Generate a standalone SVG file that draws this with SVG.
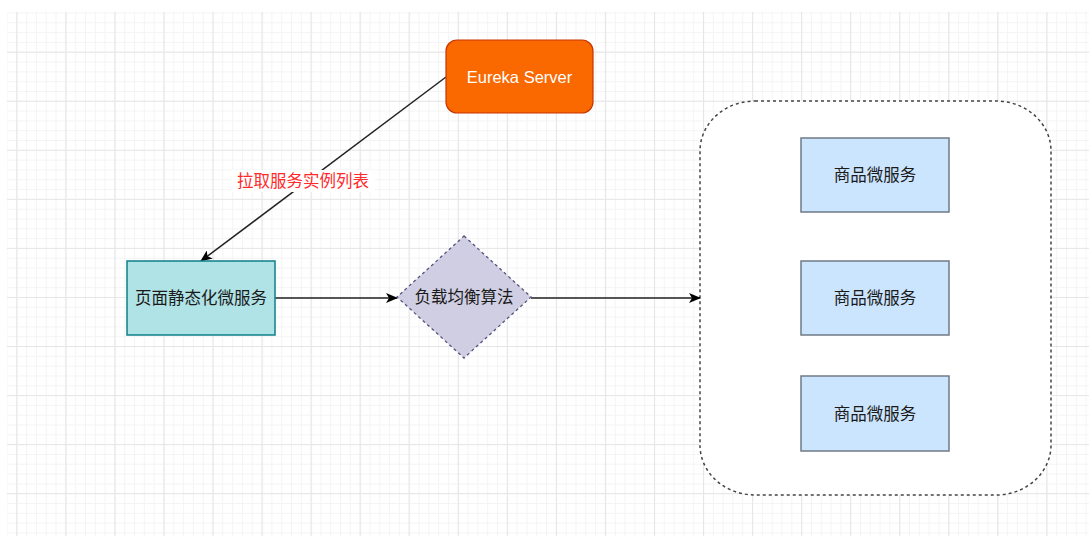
<svg xmlns="http://www.w3.org/2000/svg" width="1089" height="536" viewBox="0 0 1089 536">
<defs>
<pattern id="minor" patternUnits="userSpaceOnUse" x="6.5" y="12.5" width="9.81" height="9.81">
<path d="M0 0.5H9.81M0.5 0V9.81" stroke="#f4f4f4" stroke-width="1" fill="none"/>
</pattern>
<pattern id="major" patternUnits="userSpaceOnUse" x="16.3" y="51.7" width="49.05" height="49.05">
<path d="M0 0.5H49.05M0.5 0V49.05" stroke="#e6e6e6" stroke-width="1.2" fill="none"/>
</pattern>
<marker id="arr" markerWidth="12" markerHeight="10" refX="11" refY="5" orient="auto" markerUnits="userSpaceOnUse">
<path d="M0 0L12 5L0 10L3 5Z" fill="#000"/>
</marker>
<style>
.t{font-family:"Liberation Sans","Noto Sans CJK SC",sans-serif;font-size:16.5px;text-anchor:middle;dominant-baseline:central;fill:#1a1a1a}
.c{stroke:#222;stroke-width:1.5;fill:none}
.svc{fill:#cce5ff;stroke:#6f7985;stroke-width:1.5}
</style>
</defs>
<rect width="1089" height="536" fill="#fff"/>
<rect x="7" y="12" width="1082" height="524" fill="url(#minor)"/>
<rect x="7" y="12" width="1082" height="524" fill="url(#major)"/>

<g id="container">
<rect x="700" y="101" width="351" height="394" rx="55" ry="50" fill="#fff" stroke="#444" stroke-width="1.5" stroke-dasharray="3 3"/>
</g>

<g id="connectors">
<line class="c" x1="446" y1="77" x2="201" y2="261" marker-end="url(#arr)"/>
<rect x="231" y="170" width="144" height="22" fill="#fff"/>
<text class="t" x="303" y="181" style="fill:#ff2a2a">拉取服务实例列表</text>
<line class="c" x1="275" y1="298" x2="397" y2="298" marker-end="url(#arr)"/>
<line class="c" x1="531" y1="298" x2="700" y2="298" marker-end="url(#arr)"/>
</g>

<g id="eureka">
<rect x="446" y="40" width="147" height="73" rx="11" fill="#fa6800" stroke="#c73500" stroke-width="1.2"/>
<text class="t" x="519.5" y="77" style="fill:#fff">Eureka Server</text>
</g>

<g id="page-static">
<rect x="127" y="261" width="148" height="74" fill="#b0e3e6" stroke="#0e8088" stroke-width="1.5"/>
<text class="t" x="201" y="298">页面静态化微服务</text>
</g>

<g id="load-balance">
<polygon points="464,236 531,297 464,358 397,297" fill="#d0cee2" stroke="#56517e" stroke-width="1.3" stroke-dasharray="3 3"/>
<text class="t" x="464" y="297">负载均衡算法</text>
</g>

<g id="svc1">
<rect class="svc" x="801" y="138" width="148" height="74"/>
<text class="t" x="875" y="175">商品微服务</text>
</g>
<g id="svc2">
<rect class="svc" x="801" y="261" width="148" height="74"/>
<text class="t" x="875" y="298">商品微服务</text>
</g>
<g id="svc3">
<rect class="svc" x="801" y="376" width="148" height="75"/>
<text class="t" x="875" y="413.5">商品微服务</text>
</g>
</svg>
